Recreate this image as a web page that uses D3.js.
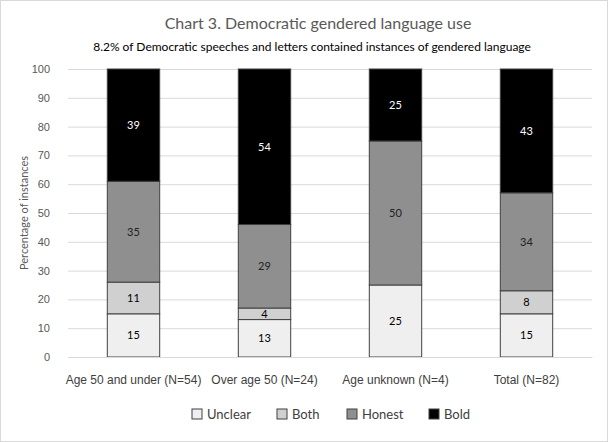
<!DOCTYPE html>
<html><head><meta charset="utf-8">
<script src="https://cdn.jsdelivr.net/npm/d3@7"></script>
<style>
body{margin:0;background:#fff;}
svg{display:block;font-family:Lato,"Open Sans",sans-serif;}
</style></head>
<body><svg id="c" width="608" height="442"></svg>
<script>
const categories = ["Age 50 and under (N=54)", "Over age 50 (N=24)", "Age unknown (N=4)", "Total (N=82)"];
const seriesNames = ["Unclear", "Both", "Honest", "Bold"];
const unclear = [15, 13, 25, 15];
const both = [11, 4, 0, 8];
const honest = [35, 29, 50, 34];
const bold = [39, 54, 25, 43];
const yTicks = [0, 10, 20, 30, 40, 50, 60, 70, 80, 90, 100];
const colors = ["#efefef", "#d0d0d0", "#8f8f8f", "#000000"];
const labelColors = ["#000", "#000", "#222", "#fff"];

const svg = d3.select("#c");
const W = 608, H = 442;
svg.append("rect").attr("x",0.5).attr("y",0.5).attr("width",W-1).attr("height",H-1)
  .attr("fill","#fff").attr("stroke","#d9d9d9");

const m = {left:68, right:592, top:69, bottom:357};
const x = d3.scaleBand().domain(categories).range([m.left, m.right]).paddingInner(0.6).paddingOuter(0.3);
const y = d3.scaleLinear().domain([0,100]).range([m.bottom, m.top]);

// grid
const yAxis = d3.axisLeft(y).tickValues(yTicks).tickSize(-(m.right-m.left)).tickPadding(18);
const ga = svg.append("g").attr("transform",`translate(${m.left},0)`).call(yAxis);
ga.select(".domain").remove();
ga.selectAll(".tick line").attr("stroke","#d9d9d9");
ga.selectAll(".tick text").attr("fill","#595959").style("font-size","11px");

const table = categories.map((c,i)=>({cat:c, Unclear:unclear[i], Both:both[i], Honest:honest[i], Bold:bold[i]}));
const stacked = d3.stack().keys(seriesNames)(table);

const layers = svg.append("g").selectAll("g").data(stacked).join("g");
layers.selectAll("rect").data((d,si)=>d.map(v=>({v,si})).filter(o=>o.v[1]-o.v[0]>0)).join("rect")
  .attr("x",o=>x(o.v.data.cat)).attr("width",x.bandwidth())
  .attr("y",o=>y(o.v[1])).attr("height",o=>y(o.v[0])-y(o.v[1]))
  .attr("fill",o=>colors[o.si]).attr("stroke","#404040").attr("stroke-width",1);
layers.selectAll("text").data((d,si)=>d.map(v=>({v,si})).filter(o=>o.v[1]-o.v[0]>0)).join("text")
  .attr("x",o=>x(o.v.data.cat)+x.bandwidth()/2)
  .attr("y",o=>(y(o.v[0])+y(o.v[1]))/2)
  .attr("dy","0.35em").attr("text-anchor","middle")
  .attr("fill",o=>labelColors[o.si]).style("font-size","11px")
  .text(o=>o.v[1]-o.v[0]);

// x axis labels
const xa = svg.append("g").attr("transform",`translate(0,${m.bottom})`).call(d3.axisBottom(x).tickSize(0).tickPadding(18));
xa.select(".domain").attr("stroke","#d9d9d9");
xa.selectAll(".tick text").attr("fill","#404040").style("font-size","12px");

// y title
svg.append("text").attr("transform",`translate(28,${(m.top+m.bottom)/2}) rotate(-90)`)
  .attr("text-anchor","middle").attr("fill","#595959").style("font-size","11px").text("Percentage of instances");

// titles
svg.append("text").attr("x",318).attr("y",29).attr("text-anchor","middle").attr("fill","#595959")
  .style("font-size","16px").text("Chart 3. Democratic gendered language use");
svg.append("text").attr("x",312).attr("y",51).attr("text-anchor","middle").attr("fill","#000")
  .style("font-size","12px").text("8.2% of Democratic speeches and letters contained instances of gendered language");

// legend
const legX = [192, 277, 347, 429];
const lg = svg.append("g").selectAll("g").data(seriesNames).join("g")
  .attr("transform",(d,i)=>`translate(${legX[i]},409)`);
lg.append("rect").attr("width",10).attr("height",10).attr("fill",(d,i)=>colors[i]).attr("stroke","#404040");
lg.append("text").attr("x",15).attr("y",5).attr("dy","0.35em").attr("fill","#404040")
  .style("font-size","13px").text(d=>d);
</script></body></html>
